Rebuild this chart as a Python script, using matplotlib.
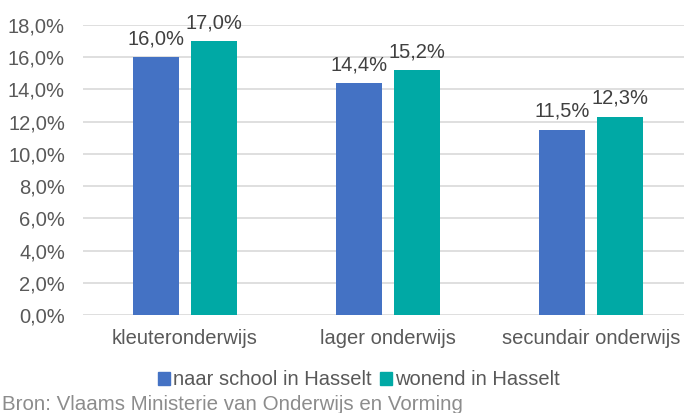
import numpy as np
import matplotlib.pyplot as plt
from matplotlib.patches import Patch

plt.rcParams['font.family'] = ['Liberation Sans', 'DejaVu Sans']

categories = ['kleuteronderwijs', 'lager onderwijs', 'secundair onderwijs']
naar_school = [16.0, 14.4, 11.5]
wonend = [17.0, 15.2, 12.3]
series_names = ['naar school in Hasselt', 'wonend in Hasselt']
colors = ['#4472C4', '#00A9A5']
yticks = np.arange(0, 19, 2)

fig = plt.figure(figsize=(6.84, 4.13), dpi=100)
ax = fig.add_axes([0.1213, 0.2373, 0.892, 0.7022])

x = np.arange(len(categories))
w = 0.226
b1 = ax.bar(x - 0.1425, naar_school, w, color=colors[0], zorder=3)
b2 = ax.bar(x + 0.1425, wonend, w, color=colors[1], zorder=3)

# waarde boven elke staaf
for bars, vals in ((b1, naar_school), (b2, wonend)):
    for r, v in zip(bars, vals):
        ax.text(r.get_x() + r.get_width() / 2, v + 0.55, ('%.1f%%' % v).replace('.', ','),
                ha='center', va='bottom', fontsize=14.5, color='#404040', clip_on=False)

ax.set_xlim(-0.5, 2.5)
ax.set_ylim(0, 18)
ax.set_yticks(yticks)
ax.set_yticklabels([('%.1f%%' % t).replace('.', ',') for t in yticks])
ax.set_xticks(x)
ax.set_xticklabels(categories)
ax.tick_params(axis='both', length=0, labelsize=14.5, colors='#595959')
ax.tick_params(axis='x', pad=10)
ax.tick_params(axis='y', pad=13)
ax.grid(axis='y', color='#d9d9d9', linewidth=1.2, zorder=0)
for s in ax.spines.values():
    s.set_visible(False)

handles = [Patch(color=c) for c in colors]
fig.legend(handles, series_names, loc='center', bbox_to_anchor=(0.525, 0.08), ncol=2,
           frameon=False, fontsize=14.5, labelcolor='#595959', handlelength=0.6,
           handleheight=0.6, handletextpad=0.15, columnspacing=0.4)

fig.text(0.003, 0.02, 'Bron: Vlaams Ministerie van Onderwijs en Vorming', fontsize=14.8,
         color='#8c8c8c', ha='left', va='center')

fig.savefig('out.png', dpi=100)
